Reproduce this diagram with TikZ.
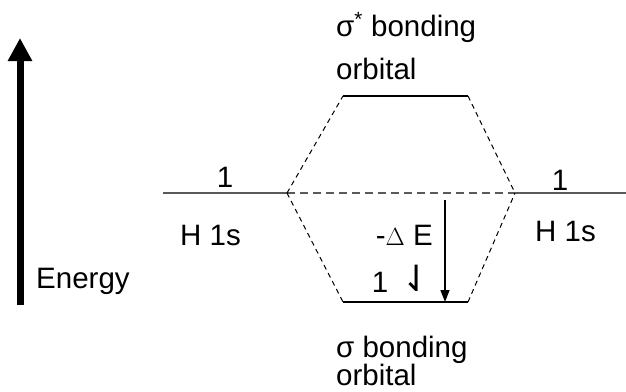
\documentclass[tikz,border=0pt]{standalone}
\usepackage{fontspec}
\setmainfont{Liberation Sans}
\newfontfamily\symfont{DejaVu Sans}
\usetikzlibrary{arrows.meta}
\definecolor{lvlgray}{RGB}{90,90,90}
\begin{document}
\begin{tikzpicture}[x=1pt,y=-1pt,
  lbl/.style={inner sep=0pt, font=\fontsize{29.5}{34}\selectfont},
  level/.style={line width=1.5pt, black},
  hlevel/.style={line width=2pt, lvlgray},
  corr/.style={line width=1pt, dash pattern=on 5pt off 4pt, black},
  hcorr/.style={line width=2pt, dash pattern=on 8pt off 5pt, lvlgray}]
\useasboundingbox (0,0) rectangle (626,391);
% coordinates
\coordinate (hl1) at (163,193);
\coordinate (hl2) at (287,193);
\coordinate (hr1) at (515,193);
\coordinate (hr2) at (626,193);
\coordinate (st1) at (343,96);
\coordinate (st2) at (468,96);
\coordinate (sb1) at (343,302);
\coordinate (sb2) at (468,302);
\coordinate (ea) at (20,305);
\coordinate (eb) at (20,38);
\coordinate (da) at (445,200);
\coordinate (db) at (445,302);
% levels
\draw[hlevel] (hl1) -- (hl2);
\draw[hlevel] (hr1) -- (hr2);
\draw[hcorr] (hl2) -- (hr1);
\draw[level] (st1) -- (st2);
\draw[level] (sb1) -- (sb2);
\draw[corr] (hl2) -- (st1);
\draw[corr] (st2) -- (hr1);
\draw[corr] (hl2) -- (sb1);
\draw[corr] (sb2) -- (hr1);
% arrows
\draw[line width=7pt, -{Triangle[width=23pt,length=23pt]}] (ea) -- (eb);
\draw[line width=1.5pt, -{Triangle[width=9pt,length=12pt]}] (da) -- (db);
% labels
\node[lbl, anchor=base west] (e) at (36,288) {Energy};
\node[lbl, anchor=base] (n1) at (225,187) {1};
\node[lbl, anchor=base] (n2) at (560,190) {1};
\node[lbl, anchor=base west] (h1) at (180,245) {H 1s};
\node[lbl, anchor=base west] (h2) at (535,241) {H 1s};
\node[lbl, anchor=base east] (de) at (433,245) {-$\Delta$ E};
\node[lbl, anchor=base] (n3) at (380,292) {1};
\node[lbl, anchor=base] (sp) at (417,291) {\symfont\fontsize{36}{40}\selectfont ⇃};
\node[lbl, anchor=base west] (t1) at (336,36) {σ\textsuperscript{*} bonding};
\node[lbl, anchor=base west] (t2) at (336,79) {orbital};
\node[lbl, anchor=base west] (b1) at (336,357) {σ bonding};
\node[lbl, anchor=base west] (b2) at (336,385) {orbital};
\end{tikzpicture}
\end{document}
